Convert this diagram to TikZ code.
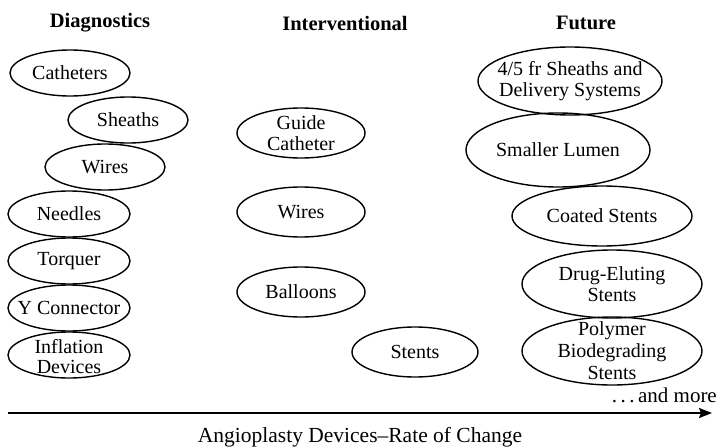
\documentclass[tikz,border=0pt]{standalone}
\usepackage{fontspec}
\setmainfont{Liberation Serif}
\usetikzlibrary{shapes.geometric,arrows.meta}
\begin{document}
\begin{tikzpicture}[x=1pt,y=-1pt,
  dev/.style={draw, ellipse, line width=1.4pt, inner sep=0pt},
  txt/.style={align=center, font=\fontsize{20}{21}\selectfont, inner sep=0pt},
  head/.style={font=\fontsize{20.5}{22}\selectfont\bfseries, inner sep=0pt}]
\useasboundingbox (0,0) rectangle (720,447);

% column headings
\node[head] (hd) at (100,23) {Diagnostics};
\node[head] (hi) at (345,23) {Interventional};
\node[head] (hf) at (586,23) {Future};

% diagnostics
\node[dev, minimum width=120, minimum height=46] (d1) at (70,73) {};
\node[txt] at (d1) {Catheters};
\node[dev, minimum width=120, minimum height=46] (d2) at (128,120) {};
\node[txt] at (d2) {Sheaths};
\node[dev, minimum width=120, minimum height=46] (d3) at (105,167) {};
\node[txt] at (d3) {Wires};
\node[dev, minimum width=122, minimum height=46] (d4) at (69,214) {};
\node[txt] at (d4) {Needles};
\node[dev, minimum width=122, minimum height=46] (d5) at (69,261) {};
\node[txt] at (d5) {Torquer};
\node[dev, minimum width=122, minimum height=46] (d6) at (69,308) {};
\node[txt] at (d6) {Y Connector};
\node[dev, minimum width=122, minimum height=46] (d7) at (69,355) {};
\node[txt, font=\fontsize{20}{20}\selectfont] at ([yshift=-2]d7.center) {Inflation\\Devices};

% interventional
\node[dev, minimum width=128, minimum height=50] (i1) at (301,133) {};
\node[txt] at (i1) {Guide\\Catheter};
\node[dev, minimum width=128, minimum height=50] (i2) at (301,212) {};
\node[txt] at (i2) {Wires};
\node[dev, minimum width=128, minimum height=50] (i3) at (301,292) {};
\node[txt] at (i3) {Balloons};
\node[dev, minimum width=126, minimum height=50] (i4) at (415,352) {};
\node[txt] at (i4) {Stents};

% future
\node[dev, minimum width=184, minimum height=68] (f1) at (570,81) {};
\node[txt] at (f1) {4/5 fr Sheaths and\\Delivery Systems};
\node[dev, minimum width=184, minimum height=74] (f2) at (558,150) {};
\node[txt] at (f2) {Smaller Lumen};
\node[dev, minimum width=180, minimum height=60] (f3) at (602,216) {};
\node[txt] at (f3) {Coated Stents};
\node[dev, minimum width=180, minimum height=68] (f4) at (612,284) {};
\node[txt] at (f4) {Drug-Eluting\\Stents};
\node[dev, minimum width=180, minimum height=68] (f5) at (612,351) {};
\node[txt, font=\fontsize{20}{22}\selectfont] at (f5) {Polymer\\Biodegrading\\Stents};

% time axis
\coordinate (axL) at (8,413);
\coordinate (axR) at (712,413);
\draw[line width=2pt, -{Stealth[length=13pt, width=10pt, inset=2pt]}] (axL) -- (axR);
\node[txt, font=\fontsize{21}{22}\selectfont, anchor=east] (more) at (717,395) {.\,.\,.\,and more};
\node[txt, font=\fontsize{21.5}{22}\selectfont] (cap) at (360,437) {Angioplasty Devices--Rate of Change};
\end{tikzpicture}
\end{document}
